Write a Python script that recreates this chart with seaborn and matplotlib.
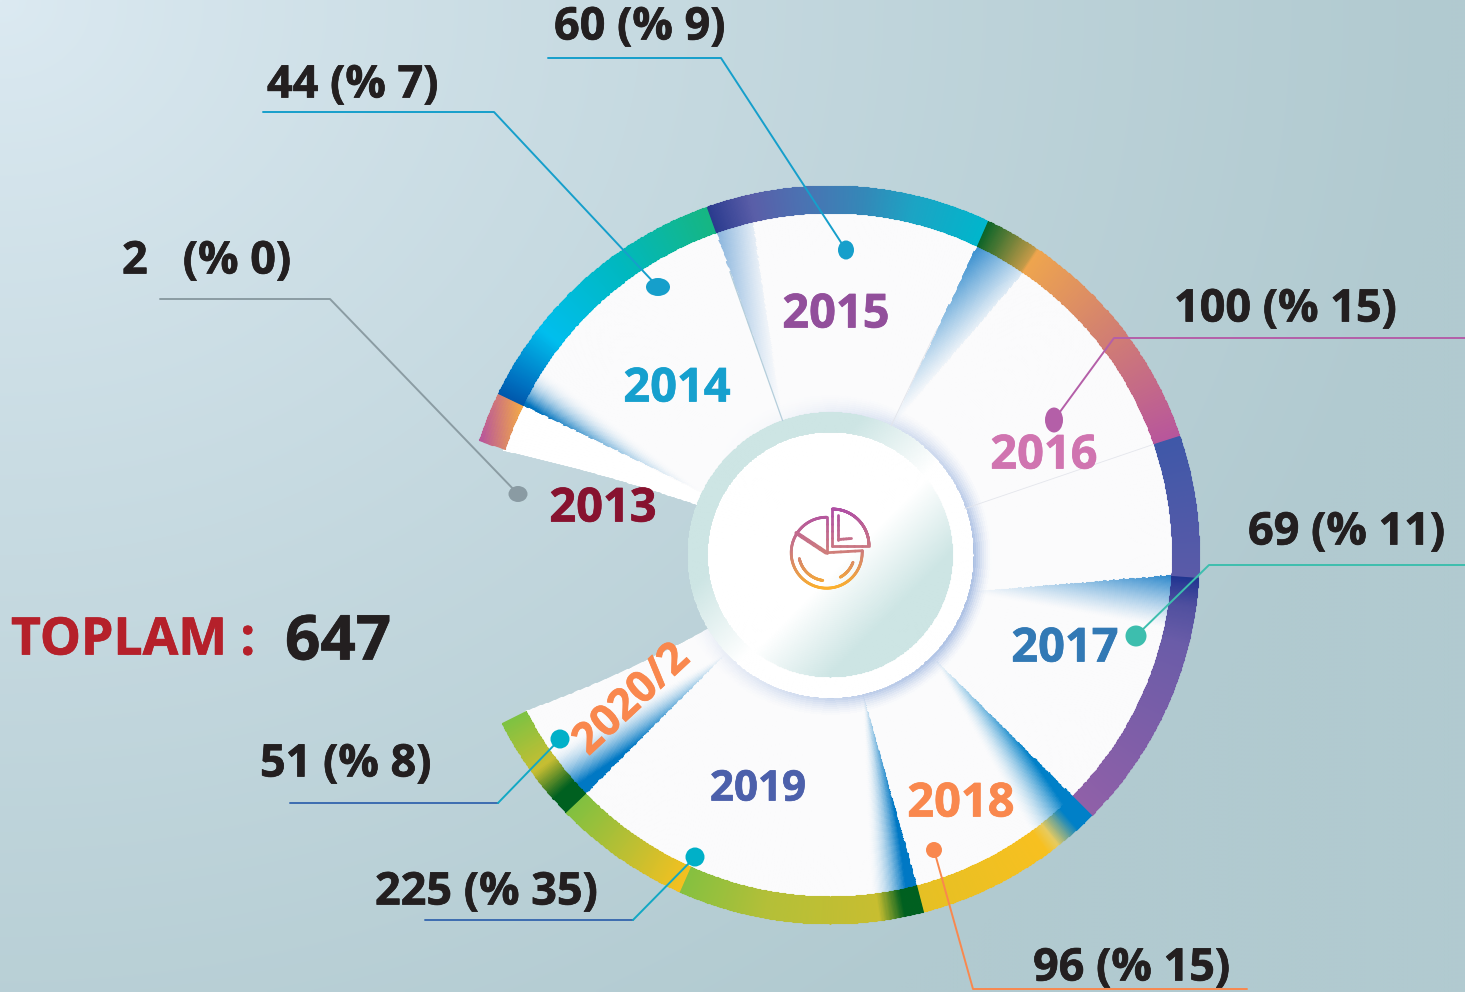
import numpy as np
import matplotlib
matplotlib.use("Agg")
import matplotlib.pyplot as plt
from matplotlib import patheffects as pe
from matplotlib.colors import to_rgb
from matplotlib.collections import LineCollection
from matplotlib.patches import Ellipse
import seaborn as sns

# values
years = ["2013", "2014", "2015", "2016", "2017", "2018", "2019", "2020/2"]
counts = [2, 44, 60, 100, 69, 96, 225, 51]
percents = [0, 7, 9, 15, 11, 15, 35, 8]
span_deg = [8.0, 44.5, 44.9, 45.8, 63.8, 30.4, 60.4, 17.0]
total = 647
first_deg = 288.0

year_colors = ["#87122F", "#16A0CE", "#924F9B", "#D074B0", "#3279B5", "#F9884E", "#4C60AB", "#F9884E"]
year_pos = [(603, 509), (677, 389), (836, 315), (1044, 456), (1065, 649), (961, 804), (758, 790), (632, 700)]
year_size = [33.8, 33.8, 33.8, 33.8, 33.8, 33.8, 30.3, 31]
year_rot = [0, 0, 0, 0, 0, 0, 0, 43]

label_pos = [(122, 262), (267, 86), (554, 28), (1174, 310), (1248, 533), (1033, 969), (375, 893), (260, 765)]
leaders = [
    [(160, 299), (330, 299), (518, 494)],
    [(263, 112), (494, 112), (658, 287)],
    [(548, 58), (721, 58), (846, 250)],
    [(1465, 338), (1114, 338), (1054, 420)],
    [(1465, 565), (1209, 565), (1136, 636)],
    [(1247, 989), (973, 989), (934, 850)],
    [(425, 920), (633, 920), (695, 857)],
    [(290, 803), (498, 803), (560, 739)],
]
leader_colors = ["#8B9CA3", "#169FCB", "#169FCB", "#B45FA8", "#3DBEAE", "#F9884E", "#12A8C4", "#12A8C4"]
dot_colors = ["#8A9BA3", "#169FCB", "#169FCB", "#B45FA8", "#3DBEAE", "#F9884E", "#00B0C8", "#00B0C8"]
dot_size = [(19, 16), (24, 18), (16, 19), (18, 25), (21, 21), (16, 16), (19, 19), (19, 19)]

# ring colour stops, degrees from the start of each slice
ring_stops = [
    [(0, "#B8569C"), (8, "#F2A84A")],
    [(0, "#0058AC"), (3, "#0070C0"), (12, "#00BEEE"), (28, "#00B8C0"), (44.5, "#16B682")],
    [(0, "#2A3A8E"), (7, "#5A5EA8"), (15, "#4B72B2"), (25, "#3488B8"), (33, "#1CA4C4"), (44.9, "#00B6CC")],
    [(0, "#0A6428"), (8.5, "#C49A48"), (9, "#EFA54E"), (25, "#D4826F"), (45.8, "#B8569C")],
    [(0, "#3F58A8"), (22.3, "#5A5AA8"), (22.4, "#1F3490"), (27, "#50509F"), (33, "#6A5CA8"), (63.8, "#9060A8")],
    [(0, "#0080C8"), (3, "#0080C8"), (7, "#E8CC60"), (9, "#F8C020"), (30.4, "#E6C024")],
    [(0, "#006020"), (3, "#006020"), (7, "#C8BE30"), (25, "#B4BF38"), (38.8, "#85C040"),
     (38.9, "#F5C020"), (50, "#B8BF34"), (60.4, "#80C040")],
    [(0, "#006020"), (3, "#006020"), (8, "#C8BE32"), (17.0, "#7EC242")],
]

# soft blue fans inside the slices: apex, edge point, width, colour, peak, end, power, fade
fans = [
    ((700, 490), (522, 404), 12, "#0073BE", 1.2, 0.0, 2.0, 1.5),
    ((782, 418), (716, 231), 11, "#3C85C8", 0.6, 0.12, 1.0, 1.2),
    ((892, 425), (977, 245), 15.4, "#2C88CC", 0.95, 0.15, 1.0, 1.2),
    ((968, 592), (1172, 575), 15, "#1E80C8", 0.95, 0.0, 1.2, 1.2),
    ((932, 657), (1072, 796), 16, "#0080C8", 1.5, 0.0, 1.6, 1.0),
    ((862, 693), (916, 885), 13.4, "#0078C4", 1.6, 0.0, 1.7, 0.8),
    ((725, 653), (585, 793), 16, "#0078C4", 1.5, 0.0, 1.6, 1.0),
]

W, H = 1465, 992
CX, CY = 830.0, 554.5
R_OUT, R_IN, R_HUB, R_DISC = 369.0, 342.0, 142.0, 122.0
MESH_LW = 0.8

sns.set_theme(style="white")
plt.rcParams["font.family"] = ["Open Sans", "DejaVu Sans"]
plt.rcParams["font.weight"] = "bold"


def to_px(t_deg, r):
    t = np.radians(t_deg)
    return CX + r * np.sin(t), CY - r * np.cos(t)


def mesh(ax, t_edges, r_edges, rgba):
    ax.pcolormesh(np.radians(t_edges), r_edges, rgba, shading="flat", antialiased=True,
                  edgecolors="face", linewidth=MESH_LW)


def heavy(txt, col, lw=0.5):
    # source face is a little heavier than Open Sans Bold
    txt.set_path_effects([pe.withStroke(linewidth=lw, foreground=col)])


fig = plt.figure(figsize=(W / 100, H / 100), dpi=100)

# background wash
bg = fig.add_axes([0, 0, 1, 1], zorder=0)
yy, xx = np.mgrid[0:H:4, 0:W:4]
wash = np.clip(np.hypot(xx / 1450, yy / 1250), 0, 1)[..., None] ** 0.85
top = np.array(to_rgb("#DCEAF2"))
low = np.array(to_rgb("#B1CAD0"))
bg.imshow(top * (1 - wash) + low * wash, extent=(0, W, H, 0), aspect="auto", interpolation="bilinear")
bg.axis("off")

# polar axes where one data unit of radius is one pixel
R_AX = 372.0
ax = fig.add_axes([(CX - R_AX) / W, (H - CY - R_AX) / H, 2 * R_AX / W, 2 * R_AX / H],
                  projection="polar", zorder=1)
ax.set_theta_zero_location("N")
ax.set_theta_direction(-1)
ax.patch.set_alpha(0)

starts = first_deg + np.concatenate([[0], np.cumsum(span_deg)[:-1]])

# slice interiors; the two free edges are not quite radial in the source
nt, nr = 1580, 100
r_e = np.linspace(R_HUB - 2, R_IN + 1, nr + 1)
s_e = np.linspace(0, 1, nt + 1)
frac = (r_e - R_HUB) / (R_IN - R_HUB)
t_lo = 290.8 - 3.0 * frac
t_hi = 598.6 + 4.2 * frac
T_e = t_lo[:, None] + (t_hi - t_lo)[:, None] * s_e[None, :]
R_e = np.repeat(r_e[:, None], nt + 1, axis=1)

s_c = 0.5 * (s_e[1:] + s_e[:-1])
r_c = 0.5 * (r_e[1:] + r_e[:-1])
f_c = (r_c - R_HUB) / (R_IN - R_HUB)
T_c = (290.8 - 3.0 * f_c)[:, None] + ((598.6 + 4.2 * f_c) - (290.8 - 3.0 * f_c))[:, None] * s_c[None, :]
R_c = np.repeat(r_c[:, None], nt, axis=1)
PX, PY = to_px(T_c, R_c)

inner = np.ones(T_c.shape + (3,)) * np.array(to_rgb("#FBFBFC"))
for (ax0, ay0), (bx, by), width, col, peak, end, power, fade in fans:
    dx, dy = PX - ax0, PY - ay0
    phi = (np.degrees(np.arctan2(dy, dx) - np.arctan2(by - ay0, bx - ax0)) + 180) % 360 - 180
    u = phi / width
    d = np.clip(np.hypot(dx, dy) / np.hypot(bx - ax0, by - ay0), 0, 1)
    a = np.clip((end + (peak - end) * np.clip(1 - u, 0, 1) ** power) * d ** fade, 0, 1)
    a = np.where((u >= 0) & (u <= 1), a, 0)[..., None]
    inner = inner * (1 - a) + np.array(to_rgb(col)) * a

# glow round the hub, stronger towards the lower right
side = np.clip(0.5 + 0.5 * np.cos(np.radians(T_c - 115)), 0, 1) ** 1.3
glow = (0.78 * np.clip(1 - (R_c - R_HUB) / 20, 0, 1) ** 1.5 * side)[..., None]
inner = inner * (1 - glow) + np.array(to_rgb("#7F9FD6")) * glow

# the 2013 slice stays plain white
top_2013 = first_deg + span_deg[0]
inner[T_c < top_2013] = 1.0
rgba = np.dstack([inner, np.ones(T_c.shape)])
ax.pcolormesh(np.radians(T_e), R_e, rgba, shading="flat", antialiased=True, edgecolors="face", linewidth=MESH_LW)

# thin dividers
for t, r0, r1, col, lw in [(starts[2], R_HUB, 300, "#B5CEDB", 0.9), (starts[3], R_HUB, 250, "#E2E4EA", 0.6),
                           (starts[4], R_HUB, R_IN, "#E4E6EC", 0.6)]:
    ax.plot(np.radians([t, t]), [r0, r1], color=col, lw=lw)

# outer ring
for i, (start, span, stops) in enumerate(zip(starts, span_deg, ring_stops)):
    n = max(int(span * 5), 8)
    off = np.linspace(0, span, n + 1)
    mid = 0.5 * (off[1:] + off[:-1])
    pos = [p for p, _ in stops]
    rgb = np.array([to_rgb(c) for _, c in stops])
    if i == 0:
        # the 2013 piece runs left to right across the band, not along it
        rows = np.linspace(R_IN, R_OUT, 11)
        rm, tm = np.meshgrid(0.5 * (rows[1:] + rows[:-1]), start + mid, indexing="ij")
        k = np.clip((to_px(tm, rm)[0] - 480) / 40, 0, 1)[..., None]
        cols = np.dstack([rgb[0] * (1 - k) + rgb[1] * k, np.ones(k.shape[:2])])
        mesh(ax, start + off, rows, cols)
        continue
    cols = np.column_stack([np.interp(mid, pos, rgb[:, k]) for k in range(3)] + [np.ones(n)])
    mesh(ax, start + off, np.array([R_IN, R_OUT]), cols[None, :, :])

# hub: ring and disc with opposite sheens
teal = np.array(to_rgb("#CDE5E4"))
n_a = 720
t_e = np.linspace(0, 360, n_a + 1)
t_c = 0.5 * (t_e[1:] + t_e[:-1])
for r0, r1, rows, disc in [(R_DISC, R_HUB + 0.5, 12, False), (0.0, R_DISC, 60, True)]:
    rr_e = np.linspace(r0, r1, rows + 1)
    rr_c = 0.5 * (rr_e[1:] + rr_e[:-1])
    tt, rr = np.meshgrid(t_c, rr_c)
    hx, hy = to_px(tt, rr)
    p = ((hx - CX) + (hy - CY)) / np.sqrt(2)
    if disc:
        k = np.clip((p - 15) / 70, 0, 1)
    else:
        k = np.clip((10 - p) / 85, 0, 1)
    k = k[..., None]
    cols = np.dstack([(1 - k) + teal * k, np.ones(tt.shape)])
    mesh(ax, t_e, rr_e, cols)

ax.set_ylim(0, R_AX)
ax.axis("off")

# overlay in image pixels for leaders, dots, labels and the icon
ov = fig.add_axes([0, 0, 1, 1], zorder=2)
ov.set_xlim(0, W)
ov.set_ylim(H, 0)
ov.patch.set_alpha(0)
ov.set_autoscale_on(False)

for i, pts in enumerate(leaders):
    xs = [p[0] for p in pts]
    ys = [p[1] for p in pts]
    col = leader_colors[i]
    if i >= 6:
        sns.lineplot(x=xs[:2], y=ys[:2], sort=False, estimator=None, color="#3C6CB0", linewidth=1.4, ax=ov)
        sns.lineplot(x=xs[1:], y=ys[1:], sort=False, estimator=None, color=col, linewidth=1.4, ax=ov)
    else:
        sns.lineplot(x=xs, y=ys, sort=False, estimator=None, color=col, linewidth=1.4, ax=ov)
    w, h = dot_size[i]
    ov.add_patch(Ellipse(pts[-1], w, h, color=dot_colors[i], lw=0, zorder=4))

for i, year in enumerate(years):
    t = ov.text(year_pos[i][0], year_pos[i][1], year, color=year_colors[i], fontsize=year_size[i], fontweight="bold",
                ha="center", va="center", rotation=year_rot[i], rotation_mode="anchor", zorder=5)
    heavy(t, year_colors[i])

for i, (cnt, pct) in enumerate(zip(counts, percents)):
    gap = "   " if cnt == 2 else " "
    t = ov.text(label_pos[i][0], label_pos[i][1], f"{cnt}{gap}(% {pct})", color="#231F20", fontsize=32.4,
                fontweight="bold", ha="left", va="center", zorder=5)
    heavy(t, "#231F20")

t = ov.text(11, 641, "TOPLAM :", color="#B5202A", fontsize=37.2, fontweight="bold", ha="left", va="center", zorder=5)
heavy(t, "#B5202A")
t = ov.text(285, 643, str(total), color="#231F20", fontsize=44.6, fontweight="bold", ha="left", va="center", zorder=5)
heavy(t, "#231F20")


# pie icon in the hub, coloured top to bottom
def arc(x0, y0, r, a0, a1, n=50):
    a = np.radians(np.linspace(a0, a1, n))
    return np.column_stack([x0 + r * np.sin(a), y0 - r * np.cos(a)])


icon_cmap = sns.blend_palette(["#B04FA4", "#CC7A80", "#FBB02E"], as_cmap=True)
main = (826.7, 552.7)
sector = (832.3, 545.7)
shapes = [
    (np.vstack([[sector], arc(*sector, 36.7, 0, 90), [sector]]), 2.0),
    (np.array([(838.3, 515), (838.3, 539.5), (851.5, 538.5)]), 2.0),
    (np.vstack([[(862.3, 550.7)], arc(*main, 35.5, 90, 360), [main], [(862.3, 550.7)]]), 2.0),
    (np.array([(796.5, 533), (826, 552.5)]), 3.0),
    (arc(*main, 28, 188, 258, 25), 2.0),
    (arc(*main, 28, 110, 151, 15), 2.0),
]
for pts, lw in shapes:
    # subdivide so the colour runs smoothly down long straight edges
    dense = np.vstack([np.linspace(a, b, 6) for a, b in zip(pts[:-1], pts[1:])])
    segs = np.stack([dense[:-1], dense[1:]], axis=1)
    k = (segs[:, :, 1].mean(axis=1) - 510) / 78
    ov.add_collection(LineCollection(segs, colors=icon_cmap(k), linewidths=lw, capstyle="round", zorder=6))

ov.axis("off")
fig.savefig("out.png", dpi=100)
